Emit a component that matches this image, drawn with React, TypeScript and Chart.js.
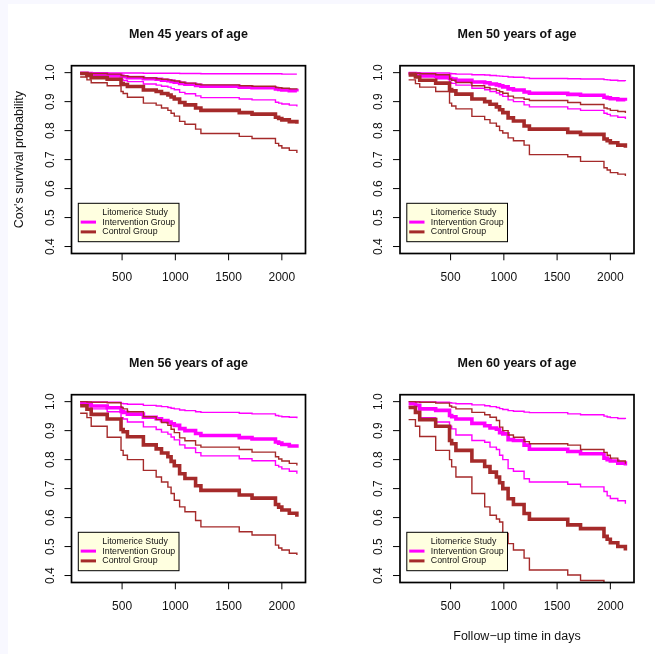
import React, { useEffect, useRef } from "react";
import { Chart, registerables } from "chart.js";

Chart.register(...registerables);

// Shared event times (days) of the Cox baseline survival steps
const followUpDays = [106, 170, 210, 360, 490, 510, 550, 700, 820, 870, 930, 960, 990, 1040, 1090, 1190, 1240, 1600, 1720, 1940, 1970, 2000, 2070, 2141];

const xTicks = [500, 1000, 1500, 2000];
const xTickLabels = ["500", "1000", "1500", "2000"];
const yTicks = [0.4, 0.5, 0.6, 0.7, 0.8, 0.9, 1.0];
const yTickLabels = ["0.4", "0.5", "0.6", "0.7", "0.8", "0.9", "1.0"];

const panelTitles = ["Men 45 years of age", "Men 50 years of age", "Men 56 years of age", "Men 60 years of age"];
const legendLabels = ["Litomerice Study", "Intervention Group", "Control Group"];
const yAxisTitle = "Cox's survival probability";
const xAxisTitle = "Follow\u2212up time in days";

// Men 45
const int45 = [0.998, 0.9965, 0.994, 0.992, 0.987, 0.986, 0.983, 0.979, 0.977, 0.974, 0.972, 0.970, 0.967, 0.963, 0.960, 0.956, 0.953, 0.950, 0.948, 0.944, 0.942, 0.940, 0.938, 0.935];
const int45Upper = [1.0, 1.0, 1.0, 0.999, 0.999, 0.999, 0.999, 0.998, 0.998, 0.998, 0.998, 0.998, 0.998, 0.997, 0.997, 0.997, 0.996, 0.996, 0.996, 0.996, 0.996, 0.995, 0.995, 0.995];
const int45Lower = [0.9965, 0.994, 0.989, 0.985, 0.976, 0.973, 0.969, 0.961, 0.957, 0.953, 0.950, 0.945, 0.941, 0.932, 0.927, 0.920, 0.914, 0.909, 0.906, 0.898, 0.895, 0.892, 0.888, 0.883];
const ctl45 = [0.997, 0.990, 0.983, 0.977, 0.962, 0.959, 0.952, 0.940, 0.935, 0.928, 0.923, 0.916, 0.909, 0.897, 0.889, 0.878, 0.870, 0.862, 0.857, 0.846, 0.842, 0.837, 0.831, 0.824];
const ctl45Upper = [0.999, 0.998, 0.997, 0.995, 0.990, 0.989, 0.986, 0.982, 0.979, 0.977, 0.975, 0.973, 0.971, 0.967, 0.964, 0.960, 0.958, 0.955, 0.953, 0.949, 0.948, 0.946, 0.944, 0.942];
const ctl45Lower = [0.985, 0.975, 0.965, 0.955, 0.935, 0.928, 0.915, 0.895, 0.888, 0.878, 0.870, 0.860, 0.850, 0.832, 0.822, 0.805, 0.790, 0.780, 0.773, 0.756, 0.748, 0.740, 0.732, 0.723];

// Men 50
const int50 = [0.997, 0.995, 0.991, 0.988, 0.980, 0.978, 0.974, 0.968, 0.965, 0.961, 0.958, 0.955, 0.951, 0.944, 0.940, 0.933, 0.929, 0.925, 0.922, 0.915, 0.913, 0.910, 0.907, 0.903];
const int50Upper = [1.0, 1.0, 0.999, 0.999, 0.997, 0.996, 0.995, 0.993, 0.992, 0.990, 0.989, 0.988, 0.987, 0.985, 0.984, 0.982, 0.980, 0.979, 0.978, 0.976, 0.975, 0.974, 0.972, 0.971];
const int50Lower = [0.995, 0.991, 0.985, 0.979, 0.966, 0.963, 0.957, 0.946, 0.941, 0.935, 0.930, 0.924, 0.918, 0.906, 0.900, 0.889, 0.882, 0.875, 0.870, 0.860, 0.856, 0.851, 0.846, 0.840];
const ctl50 = [0.992, 0.985, 0.974, 0.964, 0.942, 0.937, 0.926, 0.909, 0.900, 0.891, 0.882, 0.872, 0.862, 0.844, 0.833, 0.816, 0.805, 0.794, 0.787, 0.771, 0.765, 0.758, 0.750, 0.741];
const ctl50Upper = [0.999, 0.998, 0.996, 0.993, 0.978, 0.974, 0.966, 0.955, 0.949, 0.944, 0.939, 0.934, 0.929, 0.919, 0.913, 0.908, 0.904, 0.897, 0.890, 0.878, 0.875, 0.870, 0.866, 0.861];
const ctl50Lower = [0.975, 0.962, 0.950, 0.935, 0.895, 0.885, 0.875, 0.849, 0.838, 0.826, 0.815, 0.800, 0.792, 0.775, 0.765, 0.750, 0.717, 0.710, 0.694, 0.672, 0.664, 0.655, 0.650, 0.643];

// Men 56
const int56 = [0.995, 0.991, 0.985, 0.979, 0.966, 0.963, 0.957, 0.946, 0.941, 0.935, 0.930, 0.924, 0.918, 0.907, 0.900, 0.890, 0.883, 0.876, 0.871, 0.861, 0.857, 0.852, 0.847, 0.841];
const int56Upper = [1.0, 0.999, 0.999, 0.998, 0.994, 0.993, 0.991, 0.987, 0.985, 0.983, 0.980, 0.977, 0.975, 0.971, 0.969, 0.965, 0.963, 0.960, 0.958, 0.952, 0.950, 0.948, 0.946, 0.943];
const int56Lower = [0.992, 0.985, 0.975, 0.965, 0.945, 0.940, 0.930, 0.913, 0.904, 0.895, 0.888, 0.878, 0.868, 0.851, 0.840, 0.824, 0.813, 0.803, 0.796, 0.780, 0.775, 0.768, 0.760, 0.751];
const ctl56 = [0.986, 0.974, 0.956, 0.940, 0.904, 0.896, 0.879, 0.851, 0.837, 0.823, 0.810, 0.794, 0.779, 0.751, 0.735, 0.710, 0.694, 0.678, 0.667, 0.645, 0.636, 0.626, 0.615, 0.603];
const ctl56Upper = [1.0, 0.999, 0.998, 0.996, 0.980, 0.975, 0.965, 0.948, 0.938, 0.928, 0.918, 0.905, 0.893, 0.875, 0.865, 0.850, 0.843, 0.835, 0.826, 0.810, 0.802, 0.795, 0.787, 0.780];
const ctl56Lower = [0.960, 0.945, 0.915, 0.877, 0.832, 0.815, 0.800, 0.763, 0.740, 0.723, 0.705, 0.683, 0.660, 0.637, 0.620, 0.590, 0.568, 0.551, 0.540, 0.505, 0.495, 0.488, 0.477, 0.471];

// Men 60
const int60 = [0.993, 0.987, 0.975, 0.970, 0.952, 0.948, 0.940, 0.925, 0.917, 0.909, 0.905, 0.893, 0.889, 0.869, 0.866, 0.850, 0.836, 0.828, 0.820, 0.805, 0.800, 0.795, 0.788, 0.780];
const int60Upper = [1.0, 1.0, 0.999, 0.998, 0.996, 0.995, 0.993, 0.989, 0.986, 0.983, 0.980, 0.976, 0.973, 0.969, 0.967, 0.964, 0.962, 0.958, 0.955, 0.950, 0.947, 0.945, 0.942, 0.940];
const int60Lower = [0.983, 0.965, 0.945, 0.930, 0.915, 0.906, 0.885, 0.866, 0.860, 0.843, 0.835, 0.815, 0.800, 0.769, 0.760, 0.734, 0.723, 0.715, 0.706, 0.690, 0.675, 0.666, 0.658, 0.648];
const ctl60 = [0.980, 0.963, 0.938, 0.915, 0.866, 0.855, 0.832, 0.795, 0.776, 0.757, 0.740, 0.720, 0.700, 0.665, 0.645, 0.614, 0.594, 0.575, 0.562, 0.535, 0.525, 0.513, 0.500, 0.486];
const ctl60Upper = [1.0, 0.999, 0.998, 0.995, 0.985, 0.981, 0.975, 0.963, 0.955, 0.946, 0.935, 0.912, 0.900, 0.885, 0.877, 0.862, 0.855, 0.850, 0.835, 0.825, 0.815, 0.805, 0.795, 0.786];
const ctl60Lower = [0.938, 0.915, 0.880, 0.832, 0.800, 0.775, 0.740, 0.683, 0.637, 0.608, 0.595, 0.585, 0.545, 0.510, 0.488, 0.460, 0.419, 0.402, 0.383, 0.360, 0.350, 0.340, 0.330, 0.318];

const panelSeries = [
  { intervention: [int45, int45Upper, int45Lower], control: [ctl45, ctl45Upper, ctl45Lower] },
  { intervention: [int50, int50Upper, int50Lower], control: [ctl50, ctl50Upper, ctl50Lower] },
  { intervention: [int56, int56Upper, int56Lower], control: [ctl56, ctl56Upper, ctl56Lower] },
  { intervention: [int60, int60Upper, int60Lower], control: [ctl60, ctl60Upper, ctl60Lower] },
];

const MAGENTA = "#FF00FF";
const BROWN = "#A52A2A";
const FONT = "'Liberation Sans', Arial, Helvetica, sans-serif";

function toPoints(values: number[]) {
  return values.map((v, i) => ({ x: followUpDays[i], y: v }));
}

function makeDatasets(p: number) {
  const { intervention, control } = panelSeries[p];
  const line = (values: number[], color: string, width: number) => ({
    data: toPoints(values),
    borderColor: color,
    borderWidth: width,
    stepped: "before" as const,
    pointRadius: 0,
    fill: false,
    tension: 0,
    clip: 0,
  });
  // first dataset is painted last, so control curves sit on top
  return [
    line(control[0], BROWN, 3.6),
    line(control[1], BROWN, 1.4),
    line(control[2], BROWN, 1.4),
    line(intervention[0], MAGENTA, 3.6),
    line(intervention[1], MAGENTA, 1.4),
    line(intervention[2], MAGENTA, 1.4),
  ];
}

function Panel({ index }: { index: number }) {
  const ref = useRef<HTMLCanvasElement>(null);
  const col = index % 2;
  const row = Math.floor(index / 2);
  const left = col * 328;
  const top = row * 328;
  const width = col === 0 ? 328 : 327;
  const height = row === 0 ? 328 : 326;
  const boxL = 71.5 + col * 0.5;
  const boxR = 305.5 + col * 0.5;
  const boxT = 65.7 + row * 1;
  const boxB = 253.5 + row * 1;

  useEffect(() => {
    if (!ref.current) return;
    const frame = {
      id: "baseGraphicsFrame",
      afterDraw(chart: any) {
        const ctx = chart.ctx as CanvasRenderingContext2D;
        const a = chart.chartArea;
        const xs = chart.scales.x;
        const ys = chart.scales.y;
        ctx.save();

        // legend box
        const lw = 100.7;
        const lh = 38.4;
        const lx = a.left + 6.8;
        const ly = a.bottom - 11.8 - lh;
        ctx.fillStyle = "#FFFFE0";
        ctx.fillRect(lx, ly, lw, lh);
        ctx.strokeStyle = "#000";
        ctx.lineWidth = 1;
        ctx.strokeRect(lx, ly, lw, lh);
        const rowY = [ly + 9.2, ly + 18.8, ly + 28.6];
        const rowColor = [null, MAGENTA, BROWN];
        ctx.font = `8.8px ${FONT}`;
        ctx.textAlign = "left";
        ctx.textBaseline = "middle";
        legendLabels.forEach((label, i) => {
          const c = rowColor[i];
          if (c) {
            ctx.strokeStyle = c;
            ctx.lineWidth = 3;
            ctx.beginPath();
            ctx.moveTo(lx + 2.4, rowY[i]);
            ctx.lineTo(lx + 17.7, rowY[i]);
            ctx.stroke();
          }
          ctx.fillStyle = "#111";
          ctx.fillText(label, lx + 24, rowY[i]);
        });

        // plot frame
        ctx.strokeStyle = "#000";
        ctx.lineWidth = 1.7;
        ctx.strokeRect(a.left, a.top, a.right - a.left, a.bottom - a.top);

        // x axis ticks
        ctx.lineWidth = 1;
        ctx.fillStyle = "#111";
        ctx.font = `12px ${FONT}`;
        ctx.textAlign = "center";
        ctx.textBaseline = "middle";
        xTicks.forEach((t, i) => {
          const px = xs.getPixelForValue(t);
          ctx.beginPath();
          ctx.moveTo(px, a.bottom);
          ctx.lineTo(px, a.bottom + 6.8);
          ctx.stroke();
          ctx.fillText(xTickLabels[i], px, a.bottom + 23.8);
        });

        // y axis ticks, labels parallel to the axis
        yTicks.forEach((v, i) => {
          const py = ys.getPixelForValue(v);
          ctx.beginPath();
          ctx.moveTo(a.left, py);
          ctx.lineTo(a.left - 7, py);
          ctx.stroke();
          ctx.save();
          ctx.translate(a.left - 21, py);
          ctx.rotate(-Math.PI / 2);
          ctx.fillText(yTickLabels[i], 0, 0);
          ctx.restore();
        });

        // panel title
        ctx.font = `bold 12.5px ${FONT}`;
        ctx.fillText(panelTitles[index], (a.left + a.right) / 2, 35 + row);

        ctx.font = `12.5px ${FONT}`;
        if (index === 0) {
          ctx.save();
          ctx.translate(19.2, (a.top + a.bottom) / 2);
          ctx.rotate(-Math.PI / 2);
          ctx.fillText(yAxisTitle, 0, 0);
          ctx.restore();
        }
        if (index === 3) {
          ctx.fillText(xAxisTitle, (a.left + a.right) / 2, 308.3);
        }
        ctx.restore();
      },
    };

    const chart = new Chart(ref.current, {
      type: "line",
      data: { datasets: makeDatasets(index) as any },
      options: {
        animation: false,
        responsive: false,
        events: [],
        layout: {
          padding: { left: boxL, right: width - boxR, top: boxT, bottom: height - boxB },
        },
        scales: {
          x: { type: "linear", min: 25, max: 2222, display: false },
          y: { type: "linear", min: 0.376, max: 1.024, display: false },
        },
        plugins: {
          legend: { display: false },
          title: { display: false },
          tooltip: { enabled: false },
        },
      },
      plugins: [frame],
    });
    return () => chart.destroy();
  }, [index]);

  return (
    <canvas
      ref={ref}
      width={width}
      height={height}
      style={{ position: "absolute", left, top, width, height }}
    />
  );
}

export default function App() {
  return (
    <div
      style={{
        position: "absolute",
        left: 0,
        top: 0,
        width: 655,
        height: 654,
        overflow: "hidden",
        background: "#F8F8FF",
      }}
    >
      <div style={{ position: "absolute", left: 8, top: 4, right: 0, bottom: 0, background: "#FFFFFF" }} />
      {[0, 1, 2, 3].map((i) => (
        <Panel key={i} index={i} />
      ))}
    </div>
  );
}
